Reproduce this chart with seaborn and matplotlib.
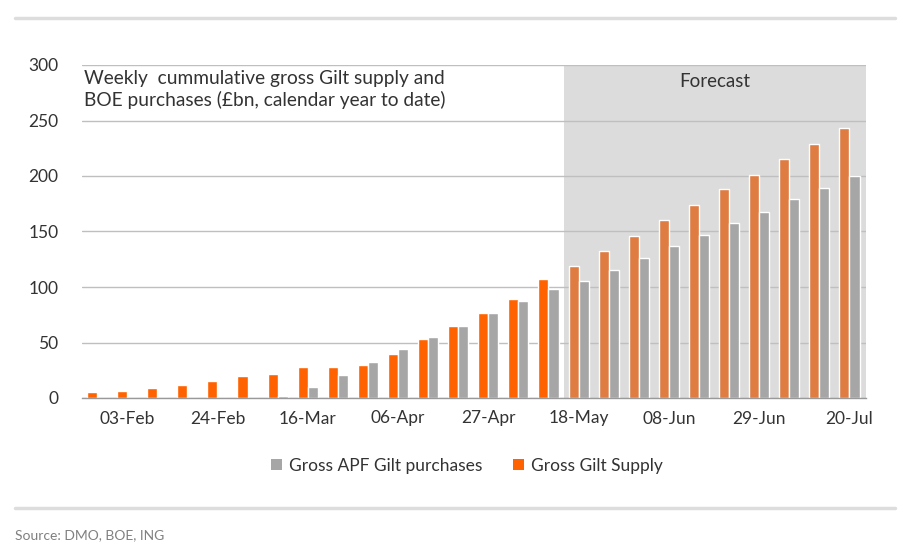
import numpy as np
import pandas as pd
import matplotlib
matplotlib.use("Agg")
import matplotlib.pyplot as plt
import seaborn as sns
from matplotlib.patches import Patch
from matplotlib.lines import Line2D

# Weekly data, calendar year to date (GBP bn)
weeks = ["27-Jan", "03-Feb", "10-Feb", "17-Feb", "24-Feb", "02-Mar", "09-Mar",
         "16-Mar", "23-Mar", "30-Mar", "06-Apr", "13-Apr", "20-Apr", "27-Apr",
         "04-May", "11-May", "18-May", "25-May", "01-Jun", "08-Jun", "15-Jun",
         "22-Jun", "29-Jun", "06-Jul", "13-Jul", "20-Jul"]
gilt_supply = [5, 6, 9, 12, 15, 20, 22, 28, 28, 30, 40, 53, 65, 77, 89, 107,
               119, 132, 146, 160, 174, 188, 201, 215, 229, 243]
apf_purchases = [0, 0, 0, 0, 0, 0, 2, 10, 21, 32, 44, 55, 65, 77, 87, 98,
                 105, 115, 126, 137, 147, 158, 168, 179, 189, 200]
first_forecast = "18-May"
shown_labels = weeks[1::3]

supply_name = "Gross Gilt Supply"
apf_name = "Gross APF Gilt purchases"

orange = "#FF6200"
orange_fc = "#DE7C42"
grey = "#A6A6A6"
grid_col = "#BFBFBF"

df = pd.DataFrame({
    "week": weeks * 2,
    "series": [supply_name] * len(weeks) + [apf_name] * len(weeks),
    "value": gilt_supply + apf_purchases,
})

sns.set_style("white")
plt.rcParams["font.family"] = ["Lato", "DejaVu Sans"]
plt.rcParams["text.color"] = "#333333"

fig = plt.figure(figsize=(9.08, 5.5), dpi=100)
ax = fig.add_axes([82 / 908, 1 - 398 / 550, 784 / 908, 333 / 550])

sns.barplot(data=df, x="week", y="value", hue="series", order=weeks,
            hue_order=[supply_name, apf_name], palette=[orange, grey],
            width=0.67, saturation=1, legend=False, ax=ax)

# forecast bars of gilt supply in a duller orange
fc_start = weeks.index(first_forecast)
for i, bar in enumerate(ax.containers[0]):
    if i >= fc_start:
        bar.set_facecolor(orange_fc)

right_edge = len(weeks) - 0.45
ax.axvspan(fc_start - 0.5, right_edge, color="#DCDCDC", zorder=0, lw=0)
ax.text((fc_start - 0.5 + right_edge) / 2, 293, "Forecast", ha="center",
        va="top", fontsize=13.5)

ax.set_xlim(-0.5, right_edge)
ax.set_ylim(0, 300)
ax.set_yticks(np.arange(0, 301, 50))
ax.yaxis.grid(True, color=grid_col, lw=1)
ax.set_axisbelow(True)

ax.set_xticks([weeks.index(w) for w in shown_labels])
ax.set_xticklabels(shown_labels)
ax.set_xticks(np.arange(-0.5, len(weeks), 1), minor=True)
ax.tick_params(axis="x", which="major", length=0, pad=9, labelsize=12.5,
               colors="#333333")
ax.tick_params(axis="x", which="minor", length=5, color="#999999", width=1)
ax.tick_params(axis="y", length=0, pad=17, labelsize=12.5, colors="#333333")
for lab in ax.get_yticklabels():
    lab.set_horizontalalignment("right")
ax.set_xlabel("")
ax.set_ylabel("")

for s in ["top", "right", "left"]:
    ax.spines[s].set_visible(False)
ax.spines["bottom"].set_color("#999999")
ax.spines["bottom"].set_linewidth(1)

ax.text(0.003, 0.985, "Weekly  cummulative gross Gilt supply and\n"
        "BOE purchases (£bn, calendar year to date)",
        transform=ax.transAxes, ha="left", va="top", fontsize=13.8,
        linespacing=1.25)

handles = [Patch(facecolor=grey, edgecolor="none"),
           Patch(facecolor=orange, edgecolor="none")]
fig.legend(handles, [apf_name, supply_name], loc="center",
           bbox_to_anchor=(467 / 908, 1 - 466 / 550), ncol=2, frameon=False,
           fontsize=12.5, handlelength=0.6, handleheight=0.6,
           handletextpad=0.4, columnspacing=1.8)

# separator lines and source
fig.add_artist(Line2D([15 / 908, 895 / 908], [1 - 18 / 550] * 2,
                      color="#DDDDDD", lw=2.5))
fig.add_artist(Line2D([15 / 908, 895 / 908], [1 - 508 / 550] * 2,
                      color="#DDDDDD", lw=2.5))
fig.text(15 / 908, 1 - 535 / 550, "Source: DMO, BOE, ING", fontsize=10,
         color="#808080", va="center", ha="left")

fig.savefig("out.png", dpi=100)
